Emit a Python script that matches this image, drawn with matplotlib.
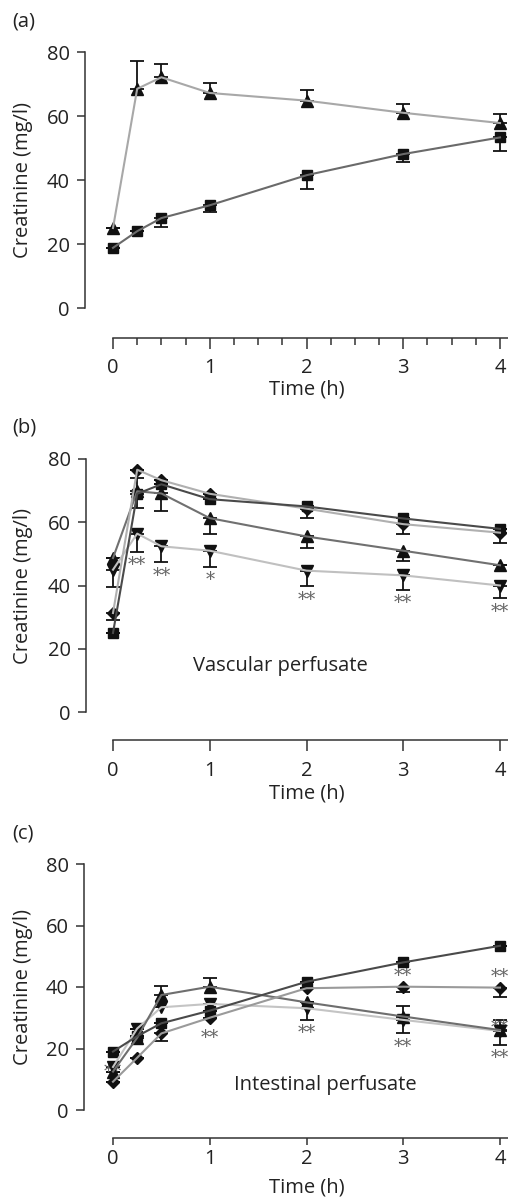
import numpy as np
import matplotlib
matplotlib.use('Agg')
import matplotlib.pyplot as plt
from matplotlib.ticker import FixedLocator

plt.rcParams['font.family'] = ['Open Sans', 'DejaVu Sans']

t = [0, 0.25, 0.5, 1, 2, 3, 4]

# (a)
a_tri = [25, 68.5, 72.1, 67.2, 64.8, 61.0, 57.8]
a_tri_up = [0, 8.6, 4.3, 3.0, 3.3, 2.9, 2.8]
a_sq = [18.8, 24.0, 28.1, 32.1, 41.5, 48.1, 53.3]
a_sq_lo = [0, 0, 2.9, 2.2, 4.2, 2.6, 4.3]

# (b) vascular perfusate
b_sq = [25, 69.0, 72.0, 67.3, 65.0, 61.2, 57.9]
b_sq_up = [0, 5.0, 0, 0, 0, 0, 0]
b_dia = [31.3, 76.6, 73.3, 69.0, 64.3, 59.4, 56.7]
b_dia_lo = [2.1, 0, 0, 0, 2.8, 3.2, 3.2]
b_tri = [48.7, 69.8, 69.1, 61.3, 55.5, 51.0, 46.4]
b_tri_lo = [0, 5.3, 5.6, 5.0, 3.6, 3.2, 0]
b_dn = [45.0, 56.4, 52.4, 51.0, 44.7, 43.2, 40.0]
b_dn_lo = [5.6, 5.8, 5.1, 5.0, 4.7, 4.5, 4.0]
b_star_x = [0.25, 0.5, 1, 2, 3, 4]
b_star_y = [46.4, 42.9, 41.6, 35.5, 34.4, 31.5]
b_star_txt = ['**', '**', '*', '**', '**', '**']

# (c) intestinal perfusate
c_sq = [19.0, 24.0, 28.2, 32.3, 41.7, 48.0, 53.4]
c_dia = [9.2, 17.0, 24.9, 30.0, 39.6, 40.1, 39.8]
c_dia_lo = [0, 0, 2.4, 0, 0, 1.8, 2.9]
c_tri = [12.5, 23.5, 37.4, 40.1, 35.0, 30.4, 26.0]
c_tri_up = [0, 3.0, 3.0, 2.7, 0, 3.4, 3.3]
c_dn = [14.0, 26.5, 33.4, 34.5, 33.1, 29.3, 25.7]
c_dn_lo = [0, 0, 0, 0, 3.8, 4.2, 4.6]
c_star_x = [0, 1, 2, 3, 3, 4, 4, 4]
c_star_y = [12.5, 23.5, 24.9, 43.7, 20.6, 43.4, 26.6, 16.8]

W, H = 508, 1200
fig = plt.figure(figsize=(W / 100, H / 100), dpi=100)

GRID = '#333333'
TXT = '#222222'
FS = 14.5


def make_ax(left, top80, zero, spine, xpad, xlab_top):
    # pixel geometry -> axes
    ppu = (zero - top80) / 80.0
    ymin = -(spine - zero) / ppu
    ymax = 81.5
    top = zero - ymax * ppu
    xppu = 96.75
    xmin = -(113 - left) / xppu
    xmax = 4.12
    right = 113 + xmax * xppu
    wpx, hpx = right - left, spine - top
    ax = fig.add_axes([left / W, 1 - spine / H, wpx / W, hpx / H])
    ax.set_xlim(xmin, xmax)
    ax.set_ylim(ymin, ymax)
    for s in ['top', 'right']:
        ax.spines[s].set_visible(False)
    ax.spines['left'].set_bounds(0, 80)
    ax.spines['bottom'].set_bounds(0, xmax)
    for s in ['left', 'bottom']:
        ax.spines[s].set_color(GRID)
        ax.spines[s].set_linewidth(1.1)
    ax.set_yticks([0, 20, 40, 60, 80])
    ax.set_xticks([0, 1, 2, 3, 4])
    ax.tick_params(colors=GRID, labelcolor=TXT, labelsize=FS, width=1.1, length=6)
    ax.tick_params(axis='y', pad=5)
    ax.tick_params(axis='x', pad=xpad)
    ax.set_ylabel('Creatinine (mg/l)', fontsize=FS, color=TXT)
    ax.yaxis.set_label_coords((33 - left) / wpx, 1 - (zero - 40 * ppu - top) / hpx)
    ax.set_xlabel('Time (h)', fontsize=FS, color=TXT)
    ax.xaxis.set_label_coords((113 + 2 * xppu - left) / wpx, -(xlab_top - spine) / hpx)
    ax.set_facecolor('none')
    return ax


def series(ax, y, color, marker, lo=None, up=None, ms=8):
    if lo is None:
        lo = [0] * len(y)
    if up is None:
        up = [0] * len(y)
    ax.errorbar(t, y, yerr=[lo, up], fmt='none', ecolor='#111111', elinewidth=1.3,
                capsize=5, capthick=1.3, clip_on=False, zorder=3)
    ax.plot(t, y, linestyle='none', marker=marker, markersize=ms, color='#111111',
            clip_on=False, zorder=4)
    ax.plot(t, y, color=color, linewidth=1.5, clip_on=False, zorder=5)


def stars(ax, xs, ys, txts=None):
    for i, (x, y) in enumerate(zip(xs, ys)):
        s = txts[i] if txts else '**'
        ax.text(x, y, s, ha='center', va='center', fontsize=13, color='#666666',
                family='DejaVu Serif', clip_on=False)


# panel a
ax = make_ax(85, 52, 308, 338, 6.5, 379)
ax.xaxis.set_minor_locator(FixedLocator([i * 0.25 for i in range(17)]))
ax.tick_params(axis='x', which='major', length=8)
ax.tick_params(axis='x', which='minor', length=5, width=1.1, colors=GRID)
series(ax, a_sq, '#6a6a6a', 's', lo=a_sq_lo, ms=7.5)
series(ax, a_tri, '#a8a8a8', '^', up=a_tri_up, ms=9)
fig.text(12 / W, 1 - 22 / H, '(a)', fontsize=FS, color=TXT, va='center')

# panel b
ax = make_ax(86, 459, 712, 740, 7, 783)
ax.tick_params(axis='x', length=8)
series(ax, b_dn, '#c0c0c0', 'v', lo=b_dn_lo, ms=9)
series(ax, b_tri, '#707070', '^', lo=b_tri_lo, ms=9)
series(ax, b_dia, '#b0b0b0', 'D', lo=b_dia_lo, ms=6.5)
series(ax, b_sq, '#4a4a4a', 's', up=b_sq_up, ms=7.5)
stars(ax, b_star_x, b_star_y, b_star_txt)
ax.text(1.73, 14.4, 'Vascular perfusate', ha='center', va='center', fontsize=FS, color=TXT)
fig.text(12 / W, 1 - 428 / H, '(b)', fontsize=FS, color=TXT, va='center')

# panel c
ax = make_ax(84, 864, 1110, 1138, 3, 1178)
ax.tick_params(axis='x', length=5)
series(ax, c_dn, '#c4c4c4', 'v', lo=c_dn_lo, ms=9)
series(ax, c_tri, '#6e6e6e', '^', up=c_tri_up, ms=9)
series(ax, c_dia, '#9a9a9a', 'D', lo=c_dia_lo, ms=6.5)
series(ax, c_sq, '#4a4a4a', 's', ms=7.5)
stars(ax, c_star_x, c_star_y)
ax.text(2.19, 8.1, 'Intestinal perfusate', ha='center', va='center', fontsize=FS, color=TXT)
fig.text(12 / W, 1 - 833 / H, '(c)', fontsize=FS, color=TXT, va='center')

fig.savefig('out.png', dpi=100, facecolor='white')
